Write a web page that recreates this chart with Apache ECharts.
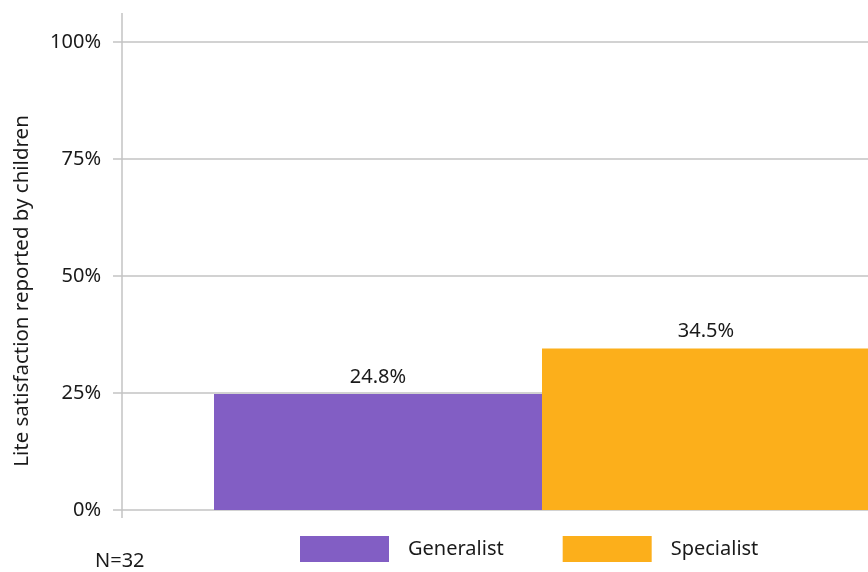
<!DOCTYPE html>
<html>
<head>
<meta charset="utf-8">
<script src="https://cdn.jsdelivr.net/npm/echarts@6/dist/echarts.min.js"></script>
<style>
  html, body { margin: 0; padding: 0; background: #fff; overflow: hidden; }
  #chart { width: 962px; height: 572px; }
</style>
</head>
<body>
<div id="chart"></div>
<script>
// Share of children reporting life satisfaction, by type of care
const categories = ['Life satisfaction'];
const seriesNames = ['Generalist', 'Specialist'];
const generalistValues = [24.8];
const specialistValues = [34.5];
const yTicks = [0, 25, 50, 75, 100];
const axisTitle = 'Lite satisfaction reported by children';
const sampleNote = 'N=32';

const FONT = '"Noto Sans", sans-serif';
const FS = 20;
const TEXT = '#1a1a1a';
const GRID = '#c3c3c3';
const PURPLE = '#825ec4';
const ORANGE = '#fcaf1b';

const chart = echarts.init(document.getElementById('chart'), null, { renderer: 'canvas' });

const labelStyle = {
  show: true,
  position: 'top',
  distance: 7,
  formatter: p => p.value.toFixed(1) + '%',
  fontFamily: FONT,
  fontSize: FS,
  color: TEXT
};

chart.setOption({
  animation: false,
  backgroundColor: '#fff',
  grid: { left: 122, right: 0, top: 42, bottom: 62, containLabel: false },
  legend: {
    data: seriesNames,
    left: 300,
    top: 536,
    padding: 0,
    itemWidth: 89,
    itemHeight: 26,
    itemGap: 59,
    icon: 'rect',
    textStyle: { fontFamily: FONT, fontSize: FS, color: TEXT, padding: [0, 0, 0, 14] }
  },
  xAxis: {
    type: 'category',
    data: categories,
    axisLine: { show: false },
    axisTick: { show: false },
    axisLabel: { show: false }
  },
  yAxis: {
    type: 'value',
    min: yTicks[0],
    max: yTicks[yTicks.length - 1],
    interval: 25,
    axisLine: { show: false },
    axisTick: { show: true, length: 9, lineStyle: { color: GRID, width: 1.5 } },
    splitLine: { show: true, lineStyle: { color: GRID, width: 1.5 } },
    axisLabel: {
      margin: 21,
      formatter: v => v + '%',
      fontFamily: FONT,
      fontSize: FS,
      color: TEXT
    }
  },
  series: [
    {
      name: seriesNames[0],
      type: 'bar',
      data: generalistValues,
      barWidth: 328,
      barGap: '0%',
      itemStyle: { color: PURPLE },
      label: labelStyle
    },
    {
      name: seriesNames[1],
      type: 'bar',
      data: specialistValues,
      barWidth: 328,
      barGap: '0%',
      itemStyle: { color: ORANGE },
      label: labelStyle
    }
  ]
});

// Vertical axis line running a little past the top and bottom gridlines,
// plus the rotated axis title and the sample-size note.
const yTop = chart.convertToPixel({ yAxisIndex: 0 }, 100);
const yBottom = chart.convertToPixel({ yAxisIndex: 0 }, 0);
const axisX = 122;

chart.setOption({
  graphic: [
    {
      type: 'line',
      shape: { x1: axisX, y1: yTop - 29, x2: axisX, y2: yBottom + 8 },
      style: { stroke: GRID, lineWidth: 1.5 },
      z: 10
    },
    {
      type: 'text',
      x: 22,
      y: 291,
      rotation: Math.PI / 2,
      style: {
        text: axisTitle,
        fontFamily: FONT,
        fontSize: 20.5,
        fill: TEXT,
        align: 'center',
        verticalAlign: 'middle'
      }
    },
    {
      type: 'text',
      x: 95,
      y: 561,
      style: {
        text: sampleNote,
        fontFamily: FONT,
        fontSize: FS,
        fill: TEXT,
        align: 'left',
        verticalAlign: 'middle'
      }
    }
  ]
});
</script>
</body>
</html>
